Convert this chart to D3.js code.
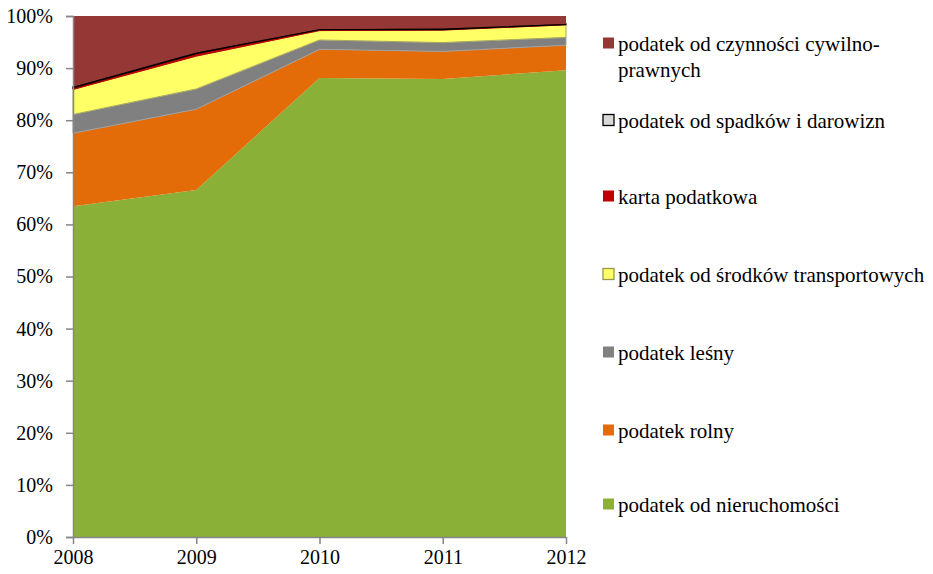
<!DOCTYPE html>
<html><head><meta charset="utf-8">
<script src="https://cdn.jsdelivr.net/npm/d3@7"></script>
</head><body style="margin:0;background:#fff"><svg id="c" width="933" height="574" style="display:block;font-family:'Liberation Serif','Times New Roman',serif"></svg>
<script>
const years = ["2008","2009","2010","2011","2012"];
const seriesNames = ["podatek od nieruchomości","podatek rolny","podatek leśny","podatek od środków transportowych","karta podatkowa","podatek od spadków i darowizn","podatek od czynności cywilno-prawnych"];
const nieruchomosci = [63.5,66.6,88.1,87.9,89.6];
const rolny = [14.0,15.5,5.5,5.3,4.8];
const lesny = [3.6,3.9,1.8,1.7,1.5];
const transport = [4.8,6.3,1.8,2.4,2.4];
const karta = [0.3,0.5,0.2,0.1,0.1];
const spadki = [0.2,0.2,0.1,0.2,0.1];
const cywilno = [13.6,7.0,2.5,2.4,1.5];
const yTicks = [0,10,20,30,40,50,60,70,80,90,100];
const fills = ["#8AB037","#E36C09","#808080","#FFFF66","#C00000","#D9D9D9","#953735"];
const strokes = ["none","none","#a0a0a0","#a8a860","#C00000","#000","none"];
const legendLines = [["podatek od czynności cywilno-","prawnych"],["podatek od spadków i darowizn"],["karta podatkowa"],["podatek od środków transportowych"],["podatek leśny"],["podatek rolny"],["podatek od nieruchomości"]];
const legendY = [43,120,196,274,352,430,504];
const FONT = "'Liberation Serif', 'Times New Roman', serif";

const all = [nieruchomosci,rolny,lesny,transport,karta,spadki,cywilno];
const data = years.map((y,i)=>{const o={year:y}; all.forEach((s,k)=>o["s"+k]=s[i]); return o;});
const keys = all.map((_,k)=>"s"+k);
const stack = d3.stack().keys(keys).offset(d3.stackOffsetExpand);
const layers = stack(data);

const svg = d3.select("#c");
const x = d3.scalePoint().domain(years).range([73,566]);
const y = d3.scaleLinear().domain([0,1]).range([537,16]);

const area = d3.area().x(d=>x(d.data.year)).y0(d=>y(d[0])).y1(d=>y(d[1]));
svg.append("g").selectAll("path").data(layers).join("path")
  .attr("d",area).attr("fill",(d,i)=>fills[i])
  .attr("stroke",(d,i)=>strokes[i]).attr("stroke-width",(d,i)=>i===5?1.3:1);

const ya = svg.append("g").attr("transform","translate(73,0)")
  .call(d3.axisLeft(y).tickValues(yTicks.map(v=>v/100)).tickFormat(v=>Math.round(v*100)+"%").tickSize(7).tickPadding(13));
ya.attr("font-family",null).attr("font-size",null);
ya.select(".domain").attr("stroke","#868686").attr("stroke-width",1.5);
ya.selectAll(".tick line").attr("stroke","#868686").attr("stroke-width",1.5);
ya.selectAll("text").style("font-family",FONT).style("font-size","20px").attr("fill","#000");

const xa = svg.append("g").attr("transform","translate(0,537)")
  .call(d3.axisBottom(x).tickSize(7).tickPadding(6).tickSizeOuter(0));
xa.attr("font-family",null).attr("font-size",null);
xa.select(".domain").attr("stroke","#868686").attr("stroke-width",1.5);
xa.selectAll(".tick line").attr("stroke","#868686").attr("stroke-width",1.5);
xa.selectAll("text").style("font-family",FONT).style("font-size","20px").attr("fill","#000");

const legOrder = [6,5,4,3,2,1,0];
const lg = svg.append("g");
legOrder.forEach((si,j)=>{
  const cy = legendY[j];
  lg.append("rect").attr("x",603).attr("y",cy-5.5).attr("width",11).attr("height",11)
    .attr("fill",fills[si]).attr("stroke",si===5?"#000":(si===3?"#989850":"none")).attr("stroke-width",1.3);
  legendLines[j].forEach((t,k)=>{
    lg.append("text").attr("x",618).attr("y",cy+8+k*26).style("font-family",FONT).style("font-size","21px").attr("fill","#000").text(t);
  });
});
</script></body></html>
